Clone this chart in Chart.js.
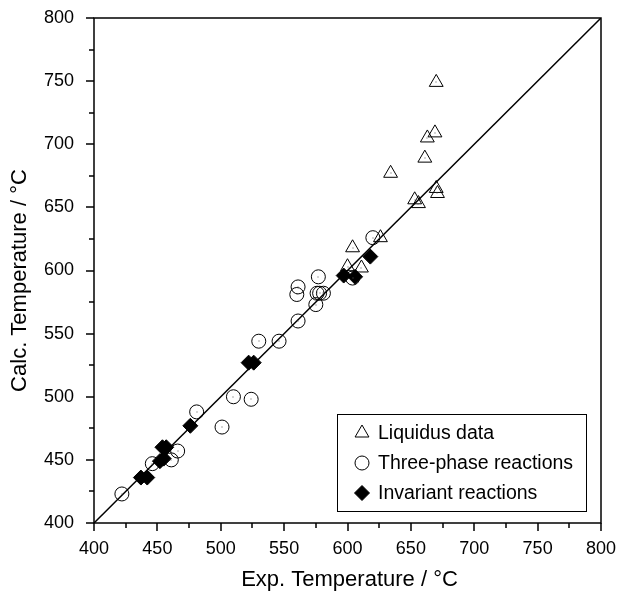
<!DOCTYPE html>
<html>
<head>
<meta charset="utf-8">
<script src="https://cdn.jsdelivr.net/npm/chart.js@4.4.1/dist/chart.umd.min.js"></script>
<style>
  html, body { margin: 0; padding: 0; background: #fff; }
  #c { display: block; }
</style>
</head>
<body>
<canvas id="c" width="619" height="597"></canvas>
<script>
// Experimental vs. calculated temperatures (°C)
const liquidusExp  = [670, 669, 663, 661, 634, 670, 671, 653, 656, 626, 604, 600, 611];
const liquidusCalc = [749, 709, 705, 689, 677, 665, 661, 656, 653, 626, 618, 603, 602];

const threePhaseExp  = [620, 604, 577, 561, 560, 576, 578, 581, 575, 561, 546, 530, 524, 510, 501, 481, 466, 461, 446, 422];
const threePhaseCalc = [626, 594, 595, 587, 581, 582, 582, 582, 573, 560, 544, 544, 498, 500, 476, 488, 457, 450, 447, 423];

const invariantExp  = [618, 597, 606, 522, 526, 476, 454, 457, 452, 455, 437, 442];
const invariantCalc = [611, 596, 595, 527, 527, 477, 460, 460, 449, 451, 436, 436];

const parityLine = [400, 800];

const axisMin = 400, axisMax = 800, majorStep = 50, minorStep = 25;

const legendLabels = ['Liquidus data', 'Three-phase reactions', 'Invariant reactions'];
const xTitle = 'Exp. Temperature / °C';
const yTitle = 'Calc. Temperature / °C';

const pts = (xs, ys) => xs.map((x, i) => ({x: x, y: ys[i]}));

const FONT = '"Liberation Sans", Arial, Helvetica, sans-serif';

function drawMarker(ctx, ds, cx, cy) {
  ctx.save();
  ctx.fillStyle = ds.backgroundColor;
  ctx.strokeStyle = ds.borderColor;
  ctx.lineWidth = ds.borderWidth;
  Chart.helpers.drawPoint(ctx, {pointStyle: ds.pointStyle, radius: ds.pointRadius, rotation: 0, borderWidth: ds.borderWidth}, cx, cy);
  ctx.restore();
}

// Fixed axis box sizes, no extra room for end labels
function fixBox(size, horizontal) {
  return function (s) {
    if (horizontal) s.height = size; else s.width = size;
    s.paddingTop = 0; s.paddingBottom = 0; s.paddingLeft = 0; s.paddingRight = 0;
  };
}

// Frame, outward major/minor ticks, axis titles, centre dots and legend box
const decorations = {
  id: 'decorations',
  afterDatasetsDraw(chart) {
    const {ctx, chartArea: a, scales: {x, y}} = chart;
    ctx.save();
    ctx.strokeStyle = '#000';
    ctx.lineWidth = 1.5;
    ctx.strokeRect(a.left, a.top, a.right - a.left, a.bottom - a.top);

    ctx.beginPath();
    for (let v = axisMin; v <= axisMax; v += minorStep) {
      const len = (v - axisMin) % majorStep === 0 ? 8 : 5;
      const px = Math.round(x.getPixelForValue(v));
      ctx.moveTo(px, a.bottom);
      ctx.lineTo(px, a.bottom + len);
      const py = Math.round(y.getPixelForValue(v));
      ctx.moveTo(a.left, py);
      ctx.lineTo(a.left - len, py);
    }
    ctx.stroke();

    // small centre dots on the open markers
    ctx.fillStyle = '#555';
    [0, 1].forEach(di => {
      chart.getDatasetMeta(di).data.forEach(el => {
        ctx.fillRect(Math.round(el.x) - 0.5, Math.round(el.y) - 0.5, 1, 1);
      });
    });

    // axis titles
    ctx.fillStyle = '#000';
    ctx.font = '22px ' + FONT;
    ctx.textAlign = 'center';
    ctx.textBaseline = 'middle';
    ctx.fillText(xTitle, (a.left + a.right) / 2 + 2, 580);
    ctx.translate(20, (a.top + a.bottom) / 2 + 10);
    ctx.rotate(-Math.PI / 2);
    ctx.fillText(yTitle, 0, 0);
    ctx.setTransform(1, 0, 0, 1, 0, 0);

    // legend
    const bx = 337, by = 414, bw = 249, bh = 97;
    ctx.fillStyle = '#fff';
    ctx.fillRect(bx, by, bw, bh);
    ctx.lineWidth = 1;
    ctx.strokeStyle = '#000';
    ctx.strokeRect(bx + 0.5, by + 0.5, bw, bh);
    ctx.font = '19.5px ' + FONT;
    ctx.textAlign = 'left';
    ctx.textBaseline = 'middle';
    [0, 1, 2].forEach((di, i) => {
      const ds = chart.data.datasets[di];
      const cy = by + 19 + i * 30;
      drawMarker(ctx, ds, bx + 25, cy);
      ctx.fillStyle = '#000';
      ctx.fillText(legendLabels[i], bx + 41, cy + 1);
    });
    ctx.restore();
  }
};

new Chart(document.getElementById('c'), {
  type: 'scatter',
  data: {
    datasets: [
      {
        label: legendLabels[0],
        data: pts(liquidusExp, liquidusCalc),
        pointStyle: 'triangle',
        pointRadius: 8,
        backgroundColor: 'rgba(255,255,255,0)',
        borderColor: '#000',
        borderWidth: 1,
        order: 2
      },
      {
        label: legendLabels[1],
        data: pts(threePhaseExp, threePhaseCalc),
        pointStyle: 'circle',
        pointRadius: 7,
        backgroundColor: 'rgba(255,255,255,0)',
        borderColor: '#000',
        borderWidth: 1,
        order: 3
      },
      {
        label: legendLabels[2],
        data: pts(invariantExp, invariantCalc),
        pointStyle: 'rectRot',
        pointRadius: 7.5,
        backgroundColor: '#000',
        borderColor: '#000',
        borderWidth: 1,
        order: 1
      },
      {
        type: 'line',
        label: 'parity',
        data: pts(parityLine, parityLine),
        borderColor: '#000',
        borderWidth: 1.5,
        pointRadius: 0,
        fill: false,
        order: 0
      }
    ]
  },
  options: {
    responsive: false,
    animation: false,
    devicePixelRatio: 1,
    layout: { padding: { top: 18, right: 18, left: 0, bottom: 0 } },
    plugins: {
      legend: { display: false },
      tooltip: { enabled: false }
    },
    scales: {
      x: {
        type: 'linear',
        min: axisMin, max: axisMax,
        grid: { display: false, drawTicks: false },
        border: { display: false },
        ticks: { stepSize: majorStep, padding: 15, color: '#000', font: { family: FONT, size: 18 } },
        afterFit: fixBox(74, true)
      },
      y: {
        type: 'linear',
        min: axisMin, max: axisMax,
        grid: { display: false, drawTicks: false },
        border: { display: false },
        ticks: { stepSize: majorStep, padding: 20, color: '#000', font: { family: FONT, size: 18 } },
        afterFit: fixBox(94, false)
      }
    }
  },
  plugins: [decorations]
});
</script>
</body>
</html>
